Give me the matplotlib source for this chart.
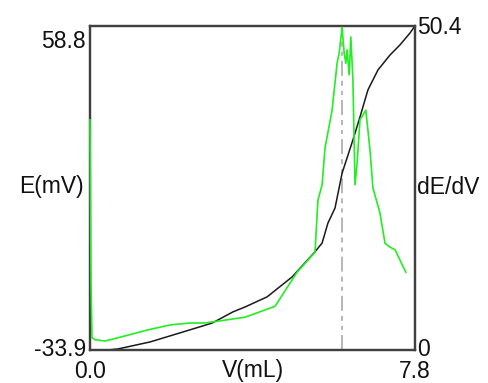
import matplotlib
matplotlib.use("Agg")
import matplotlib.pyplot as plt

plt.rcParams['font.family'] = ['Liberation Sans', 'DejaVu Sans']
plt.rcParams['lines.scale_dashes'] = False

# Titration volume (mL) and potential E (mV)
vol_e = [0.43, 0.67, 1.44, 2.16, 2.93, 3.43, 3.72, 4.25, 4.85, 5.40, 5.57, 5.71,
         5.88, 6.05, 6.31, 6.48, 6.67, 6.91, 7.20, 7.44, 7.68, 7.78]
e_mv = [-33.9, -33.6, -31.6, -29.0, -26.2, -23.0, -21.6, -18.7, -13.0, -5.8, -3.3, 2.4,
        6.7, 16.7, 26.2, 32.8, 40.5, 46.2, 50.5, 53.4, 56.8, 58.5]

# First derivative dE/dV
vol_d = [0.0, 0.024, 0.048, 0.12, 0.36, 0.67, 1.37, 1.92, 2.40, 2.76, 3.72, 4.44, 4.97,
         5.40, 5.47, 5.57, 5.64, 5.81, 5.93, 5.98, 6.05, 6.10, 6.14, 6.17, 6.22, 6.26,
         6.31, 6.36, 6.41, 6.48, 6.62, 6.72, 6.79, 6.96, 7.08, 7.20, 7.32, 7.58]
dedv = [35.8, 10.4, 1.9, 1.6, 1.4, 1.9, 3.1, 3.9, 4.2, 4.2, 5.1, 6.8, 12.1,
        15.2, 23.3, 25.7, 31.4, 37.3, 44.6, 46.2, 50.2, 46.2, 44.6, 46.7, 42.8, 48.7,
        42.0, 25.7, 29.1, 35.8, 37.3, 31.1, 25.2, 21.3, 16.6, 16.0, 15.6, 12.1]

endpoint = 6.05
x_lim = (0.0, 7.8)
e_lim = (-33.9, 58.8)
d_lim = (0.0, 50.4)

W, H = 489, 383
fig = plt.figure(figsize=(W / 100, H / 100), dpi=100)
L, R, T, B = 90, 415, 26, 350
ax = fig.add_axes([L / W, 1 - B / H, (R - L) / W, (B - T) / H])
ax2 = ax.twinx()

ax.axvline(endpoint, color='#aaaaaa', lw=1.2,
           linestyle=(0, (10.8, 3.6, 3.0, 3.6, 3.6, 3.6)), zorder=1)
ax.plot(vol_e, e_mv, color='#1a1a1a', lw=1.1, zorder=3)
ax2.plot(vol_d, dedv, color='#22ee22', lw=1.2, zorder=3, clip_on=False)

ax.set_xlim(*x_lim)
ax.set_ylim(*e_lim)
ax2.set_ylim(*d_lim)
for a in (ax, ax2):
    a.set_xticks([])
    a.set_yticks([])
    for s in a.spines.values():
        s.set_color('#404040')
        s.set_linewidth(1.6)
ax2.patch.set_visible(False)

fs = 16.5
fc = '#111111'
def px(x, y, s, ha, va):
    fig.text(x / W, 1 - y / H, s, ha=ha, va=va, fontsize=fs, color=fc)

px(86, 41, f"{e_lim[1]:.1f}", 'right', 'center')
px(86, 350, f"{e_lim[0]:.1f}", 'right', 'center')
px(84, 187, "E(mV)", 'right', 'center')
px(417, 27, f"{d_lim[1]:.1f}", 'left', 'center')
px(417, 350, "0", 'left', 'center')
px(417, 187, "dE/dV", 'left', 'center')
px(90, 371, f"{x_lim[0]:.1f}", 'center', 'center')
px(253, 371, "V(mL)", 'center', 'center')
px(415, 371, f"{x_lim[1]:.1f}", 'center', 'center')

fig.savefig("out.png", dpi=100)
